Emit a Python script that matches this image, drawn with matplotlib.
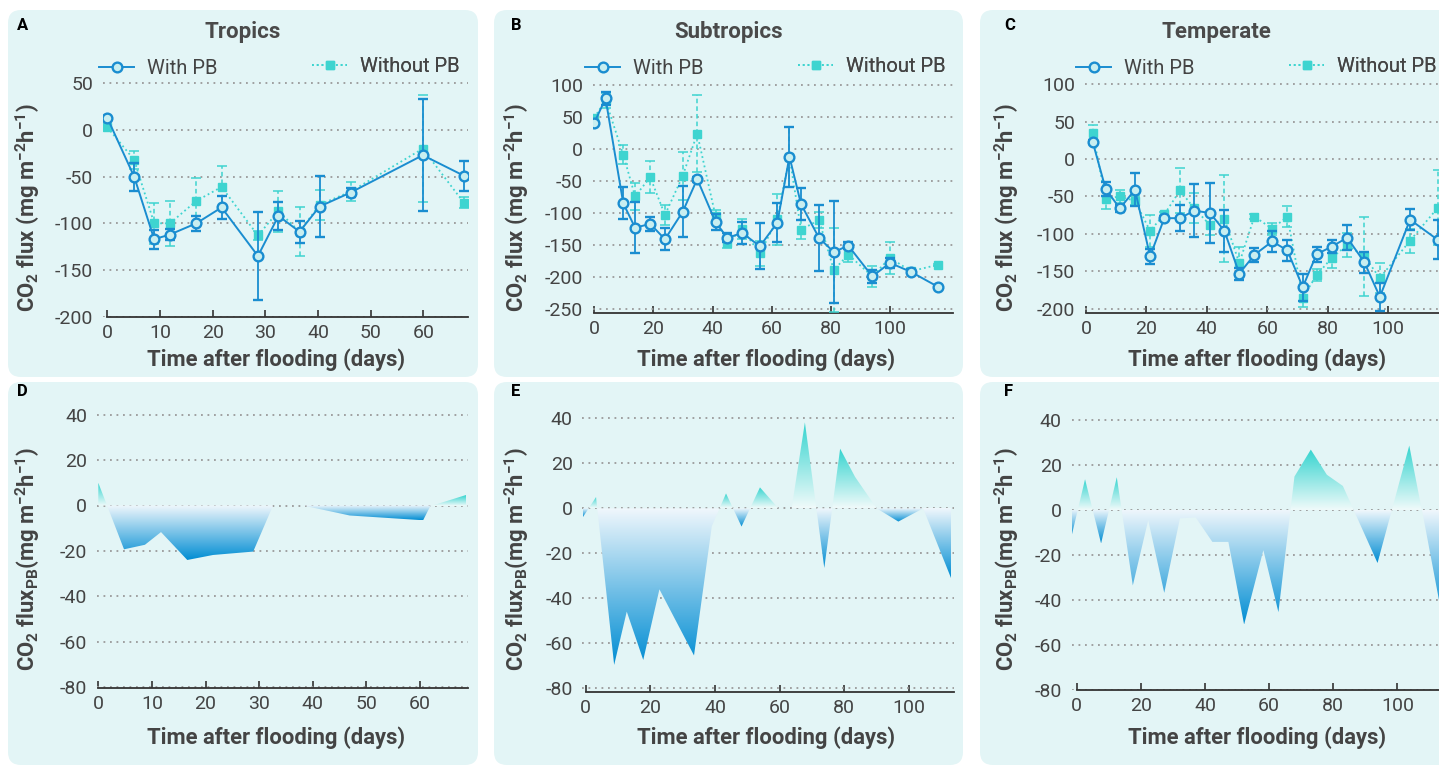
import numpy as np
import matplotlib
matplotlib.use('Agg')
import matplotlib.pyplot as plt
from matplotlib.patches import FancyBboxPatch
from matplotlib.lines import Line2D
from matplotlib.colors import LinearSegmentedColormap
from matplotlib.transforms import IdentityTransform

plt.rcParams['font.family'] = ['Roboto', 'DejaVu Sans']
plt.rcParams['axes.unicode_minus'] = False
plt.rcParams['mathtext.fontset'] = 'custom'
plt.rcParams['mathtext.rm'] = 'Roboto:bold'
plt.rcParams['mathtext.it'] = 'Roboto:bold'
plt.rcParams['mathtext.bf'] = 'Roboto:bold'
plt.rcParams['mathtext.default'] = 'rm'

# ---------------- data ----------------
titles = ['Tropics', 'Subtropics', 'Temperate']
panel_letters = ['A', 'B', 'C', 'D', 'E', 'F']
legend_labels = ['With PB', 'Without PB']
xlabel = 'Time after flooding (days)'
ylabel_top = r'CO$_2$ flux (mg m$^{-2}$h$^{-1}$)'
ylabel_bot = r'CO$_2$ flux$_{PB}$(mg m$^{-2}$h$^{-1}$)'

trop_days = [0, 5.1, 8.9, 11.9, 16.9, 21.7, 28.6, 32.5, 36.5, 40.3, 46.2, 59.9, 67.7]
trop_with = [13, -50, -117, -112, -100, -83, -135, -92, -109, -82, -67, -27, -49]
trop_with_err = [2, 15, 10, 6, 8, 12, 47, 15, 12, 33, 5, 60, 16]
trop_without = [3, -32, -100, -100, -76, -61, -113, -87, -109, -80, -66, -20, -78]
trop_without_err = [2, 10, 22, 24, 25, 22, 5, 22, 26, 16, 10, 57, 6]

sub_days = [0, 3.8, 9.8, 13.8, 18.9, 23.9, 29.9, 34.8, 41, 45, 50, 56, 61.9, 66, 69.9,
            76, 81, 85.9, 94, 100, 107.1, 116.1]
sub_with = [41, 79, -85, -123, -117, -141, -98, -47, -114, -139, -131, -152, -115, -12, -86,
            -139, -161, -151, -199, -178, -192, -215]
sub_with_err = [2, 10, 25, 40, 11, 17, 40, 4, 12, 7, 17, 36, 30, 47, 25, 52, 80, 5, 10, 8, 4, 2]
sub_without = [49, 76, -9, -74, -44, -103, -42, 24, -105, -147, -125, -163, -110, -12, -126,
               -111, -189, -165, -199, -170, -191, -181]
sub_without_err = [2, 12, 15, 21, 25, 15, 37, 60, 9, 8, 16, 20, 40, 47, 15, 13, 66, 11, 16, 25, 4, 2]

temp_days = [2.2, 6.5, 11.2, 16.2, 21.2, 25.9, 31.1, 35.8, 41, 45.8, 50.7, 55.7, 61.6, 66.6,
             71.7, 76.3, 81.3, 86.4, 92.1, 97.2, 107.2, 116.4]
temp_with = [23, -40, -66, -41, -130, -79, -79, -69, -72, -96, -153, -128, -110, -122,
             -171, -127, -117, -105, -138, -184, -81, -108]
temp_with_err = [3, 9, 5, 22, 10, 3, 17, 35, 40, 28, 8, 9, 14, 14, 18, 10, 9, 17, 14, 19, 14, 26]
temp_without = [35, -53, -50, -56, -96, -74, -42, -66, -88, -80, -139, -77, -93, -77,
                -185, -155, -132, -115, -130, -159, -109, -65]
temp_without_err = [11, 14, 9, 6, 21, 3, 30, 20, 13, 58, 22, 3, 8, 14, 12, 8, 14, 16, 53, 20, 16, 50]

trop_diff_days = [0, 4.8, 8.7, 11.7, 16.6, 21.4, 28.9, 32.6, 38.2, 46.9, 60.6, 62, 68.6]
trop_diff = [10, -19.3, -17.3, -11.7, -24, -21.8, -20.3, 0, 0, -4.4, -6.5, 0, 4.5]

sub_diff_days = [-0.9, 3.2, 8.8, 12.7, 17.8, 22.8, 33.5, 39, 43.4, 48.2, 53.9, 59.6, 63.7,
                 67.8, 73.8, 78.7, 83.3, 90, 96.7, 104.4, 113]
sub_diff = [-4, 5, -69.6, -45.9, -67.4, -36, -65.4, -8, 6.6, -8.1, 9.3, 0, 0,
            38.2, -26.5, 26.5, 14, 0, -5.9, 0, -30.9]

temp_diff_days = [-1.6, 2.6, 7.6, 12.5, 17.5, 22.3, 27.3, 32.2, 37.1, 42.3, 47.3, 52.2, 58.2,
                  62.9, 67.9, 73, 78, 83, 93.8, 103.7, 114]
temp_diff = [-11.6, 13.7, -14.9, 14.6, -33.6, -4.5, -36.9, -3.7, -3.3, -14.2, -14.2, -51, -17.9,
             -45.5, 14.9, 26.9, 15.7, 10.7, -23.6, 28.7, -47]

# ---------------- styling ----------------
W, H = 1439, 767
BLUE = '#1a8dd0'
TURQ = '#3ed4d0'
FACE = '#c8eef0'
BG = '#e3f5f6'
TXT = '#444444'

fig = plt.figure(figsize=(W / 100, H / 100), dpi=100)
fig.patch.set_facecolor('white')

for (x0, x1) in [(8, 478), (494, 963), (980, 1470)]:
    for (y0, y1) in [(10, 377), (382, 765)]:
        p = FancyBboxPatch((x0, H - y1), x1 - x0, y1 - y0,
                           boxstyle='round,pad=0,rounding_size=13',
                           transform=IdentityTransform(), fc=BG, ec='none', zorder=-10)
        fig.add_artist(p)


def add_axes_px(x0, sx, xlim, y0, sy, ylim):
    left = x0 + xlim[0] * sx
    right = x0 + xlim[1] * sx
    top = y0 - ylim[1] * sy
    bottom = y0 - ylim[0] * sy
    ax = fig.add_axes([left / W, 1 - bottom / H, (right - left) / W, (bottom - top) / H])
    ax.set_facecolor('none')
    return ax


def style(ax, xlim, ylim, xticks, yticks):
    ax.set_xlim(xlim)
    ax.set_ylim(ylim)
    ax.set_xticks(xticks)
    ax.set_yticks(yticks)
    for s in ['top', 'right', 'left']:
        ax.spines[s].set_visible(False)
    ax.spines['bottom'].set_bounds(0, xlim[1])
    ax.spines['bottom'].set_color('#333333')
    ax.spines['bottom'].set_linewidth(1.3)
    ax.tick_params(axis='x', direction='in', length=5, width=1.2, color='#333333',
                   labelsize=14, labelcolor=TXT, pad=5)
    ax.tick_params(axis='y', length=0, labelsize=14, labelcolor=TXT, pad=7)
    ax.yaxis.grid(True, color='#9a9a9a', linestyle=(0, (1, 2.6)), linewidth=1.3)
    ax.set_axisbelow(True)


def top_panel(geom, days, w, we, wo, woe, xticks, yticks, leg_pos):
    ax = add_axes_px(*geom)
    e2 = ax.errorbar(days, wo, yerr=woe, color=TURQ, ls=':', lw=1.3, marker='s', ms=5.5,
                     mfc=TURQ, mec=TURQ, capsize=3.5, elinewidth=1.1, capthick=1.1, zorder=3)
    for lc in e2[2]:
        lc.set_linestyle((0, (3, 2)))
    ax.errorbar(days, w, yerr=we, color=BLUE, ls='-', lw=1.4, marker='o', ms=7,
                mfc=FACE, mec=BLUE, mew=1.7, capsize=3.5, elinewidth=1.3, capthick=1.3, zorder=4)
    style(ax, (geom[2][0], geom[2][1]), (geom[5][0], geom[5][1]), xticks, yticks)
    h1 = Line2D([], [], color=BLUE, lw=1.4, marker='o', ms=7, mfc=FACE, mec=BLUE, mew=1.7)
    h2 = Line2D([], [], color=TURQ, lw=1.3, ls=':', marker='s', ms=5.5, mfc=TURQ, mec=TURQ)
    for h, lab, (px, py) in zip([h1, h2], legend_labels, leg_pos):
        leg = ax.legend([h], [lab], loc='center left', bbox_to_anchor=(px / W, 1 - py / H),
                        bbox_transform=fig.transFigure, frameon=False, borderpad=0,
                        borderaxespad=0, handlelength=1.75, handletextpad=0.65, fontsize=14.5,
                        labelcolor=TXT)
        ax.add_artist(leg)
    return ax


cmap_pos = LinearSegmentedColormap.from_list('pos', ['#f0fafa', '#34d4cf'])
cmap_neg = LinearSegmentedColormap.from_list('neg', ['#f0f7fc', '#008dd3'])


def grad_area(ax, x, y):
    x = np.asarray(x, float)
    y = np.asarray(y, float)
    for where, cmap, sign in [(y > 0, cmap_pos, 1), (y < 0, cmap_neg, -1)]:
        coll = ax.fill_between(x, 0, y, where=where, interpolate=True, alpha=0)
        paths = coll.get_paths()
        coll.remove()
        for p in paths:
            v = p.vertices
            if len(v) < 3:
                continue
            ymin, ymax = v[:, 1].min(), v[:, 1].max()
            xmin, xmax = v[:, 0].min(), v[:, 0].max()
            if sign > 0:
                if ymax < 1e-6:
                    continue
                arr = np.linspace(0, 1, 256).reshape(-1, 1)
                ext = (xmin, xmax, 0, ymax)
            else:
                if ymin > -1e-6:
                    continue
                arr = np.linspace(1, 0, 256).reshape(-1, 1)
                ext = (xmin, xmax, ymin, 0)
            im = ax.imshow(arr, extent=ext, origin='lower', cmap=cmap, aspect='auto',
                           interpolation='bilinear', zorder=2, vmin=0, vmax=1)
            im.set_clip_path(p, transform=ax.transData)


def bottom_panel(geom, x, y, xticks, yticks):
    ax = add_axes_px(*geom)
    grad_area(ax, x, y)
    style(ax, (geom[2][0], geom[2][1]), (geom[5][0], geom[5][1]), xticks, yticks)
    return ax


# geometry: (x0 pixel of day 0, px per day, xlim, y0 pixel of value 0, px per unit, ylim)
geom_A = (107.3, 5.267, (-0.8, 68.4), 130.0, 0.9333, (-200.5, 60))
geom_B = (594.3, 2.957, (-0.5, 121.2), 149.0, 0.640, (-256, 115))
geom_C = (1086.0, 3.023, (-0.3, 119.4), 159.0, 0.749, (-206, 110))
geom_D = (98.3, 5.36, (-0.3, 68.9), 505.5, 2.27, (-80.5, 45))
geom_E = (585.7, 3.233, (-1.0, 114.0), 508.3, 2.25, (-81.8, 45))
geom_F = (1076.7, 3.207, (-1.6, 115.5), 510.0, 2.245, (-80.3, 45))

top_panel(geom_A, trop_days, trop_with, trop_with_err, trop_without, trop_without_err,
          np.arange(0, 61, 10), np.arange(-200, 51, 50), [(99, 69), (312, 67)])
top_panel(geom_B, sub_days, sub_with, sub_with_err, sub_without, sub_without_err,
          np.arange(0, 101, 20), np.arange(-250, 101, 50), [(585, 69), (798, 67)])
top_panel(geom_C, temp_days, temp_with, temp_with_err, temp_without, temp_without_err,
          np.arange(0, 101, 20), np.arange(-200, 101, 50), [(1076, 69), (1289, 67)])

bottom_panel(geom_D, trop_diff_days, trop_diff, np.arange(0, 61, 10), np.arange(-80, 41, 20))
bottom_panel(geom_E, sub_diff_days, sub_diff, np.arange(0, 101, 20), np.arange(-80, 41, 20))
bottom_panel(geom_F, temp_diff_days, temp_diff, np.arange(0, 101, 20), np.arange(-80, 41, 20))


def ftext(px, py, s, **kw):
    fig.text(px / W, 1 - py / H, s, **kw)


for t, cx in zip(titles, [243, 729, 1216]):
    ftext(cx, 32, t, ha='center', va='center', fontsize=16, fontweight='bold', color='#4a4a4a')

for lab, (px, py) in zip(panel_letters, [(17, 26), (511, 26), (1004, 26),
                                          (17, 392), (511, 392), (1004, 392)]):
    ftext(px, py, lab, ha='left', va='center', fontsize=12, fontweight='bold', color='black')

for cx, cy in [(276, 360), (766, 360), (1257, 360), (276, 738), (766, 738), (1257, 738)]:
    ftext(cx, cy, xlabel, ha='center', va='center', fontsize=15.8, fontweight='bold', color=TXT)

for cx, cy in [(28, 208), (517, 208), (1007, 208)]:
    ftext(cx, cy, ylabel_top, ha='center', va='center', rotation=90, fontsize=15.8,
          fontweight='bold', color=TXT)
for cx, cy in [(28, 559), (517, 559), (1007, 559)]:
    ftext(cx, cy, ylabel_bot, ha='center', va='center', rotation=90, fontsize=15.8,
          fontweight='bold', color=TXT)

fig.savefig('out.png', dpi=100)
